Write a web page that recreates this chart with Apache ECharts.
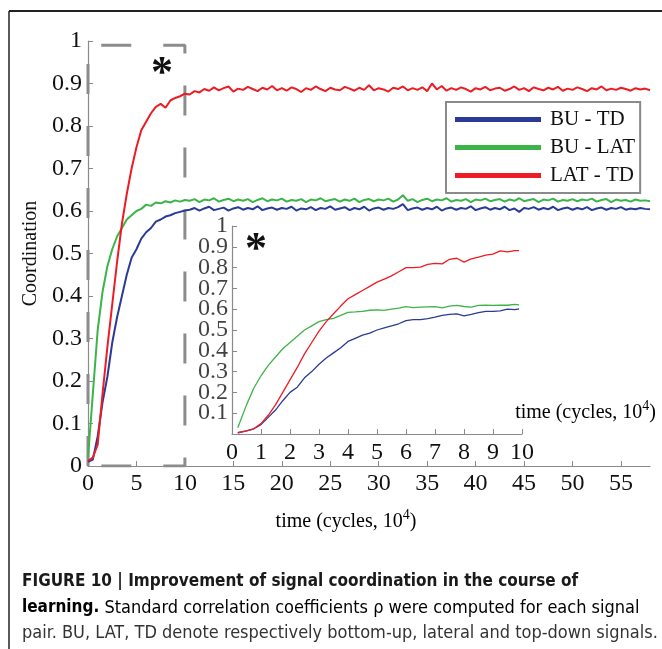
<!DOCTYPE html>
<html><head><meta charset="utf-8">
<script src="https://cdn.jsdelivr.net/npm/echarts@6.0.0/dist/echarts.min.js"></script>
<style>html,body{margin:0;padding:0;background:#fff}#c{width:662px;height:649px}</style>
</head><body><div id="c"></div>
<script>
// ---------- data ----------
const seriesNames = ['BU - TD', 'BU - LAT', 'LAT - TD'];
const seriesColors = ['#2b3a96', '#3cb44a', '#ed1c24'];

const mainTime = [0,0.5,1,1.5,2,2.5,3,3.5,4,4.5,5,5.5,6,6.5,7,7.5,8,8.5,9,9.5,10,
  10.5,11,11.5,12,12.5,13,13.5,14,14.5,15,15.5,16,16.5,17,17.5,18,18.5,19,19.5,20,
  20.5,21,21.5,22,22.5,23,23.5,24,24.5,25,25.5,26,26.5,27,27.5,28,28.5,29,29.5,30,
  30.5,31,31.5,32,32.5,33,33.5,34,34.5,35,35.5,36,36.5,37,37.5,38,38.5,39,39.5,40,
  40.5,41,41.5,42,42.5,43,43.5,44,44.5,45,45.5,46,46.5,47,47.5,48,48.5,49,49.5,50,
  50.5,51,51.5,52,52.5,53,53.5,54,54.5,55,55.5,56,56.5,57,57.5,58];

const buTdMain = [.010,.015,.070,.150,.210,.290,.350,.400,.450,.490,.510,.535,.550,.560,.575,.580,.587,.590,.595,.598,.601,
  .603,.607,.601,.606,.610,.602,.605,.608,.601,.606,
  .609,.603,.607,.604,.611,.602,.606,.608,.603,.607,
  .605,.610,.601,.606,.604,.609,.602,.607,.605,.611,
  .603,.606,.609,.602,.607,.604,.610,.601,.606,.608,
  .603,.607,.605,.609,.616,.602,.606,.608,.603,.607,
  .604,.610,.601,.606,.608,.603,.607,.605,.611,.602,
  .606,.609,.603,.607,.604,.610,.602,.606,.598,.607,
  .605,.609,.603,.607,.604,.610,.602,.606,.608,.603,
  .607,.604,.609,.602,.606,.608,.603,.607,.605,.609,
  .603,.606,.604,.607,.605,.604];

const buLatMain = [.020,.170,.320,.410,.470,.510,.540,.560,.580,.590,.600,.605,.615,.612,.620,.618,.623,.620,.625,.622,.626,
  .624,.628,.621,.627,.625,.630,.622,.626,.629,.623,
  .627,.624,.628,.621,.626,.630,.623,.627,.625,.629,
  .622,.626,.624,.628,.621,.627,.625,.630,.623,.626,
  .628,.622,.627,.624,.629,.621,.626,.628,.623,.627,
  .625,.629,.622,.627,.637,.624,.628,.621,.626,.629,
  .623,.627,.625,.630,.622,.626,.624,.628,.621,.627,
  .625,.629,.623,.626,.628,.622,.627,.624,.630,.623,
  .626,.628,.621,.627,.625,.629,.622,.626,.624,.628,
  .623,.627,.625,.629,.622,.626,.628,.621,.627,.624,
  .626,.622,.627,.624,.625,.623];

const latTdMain = [.012,.020,.050,.170,.280,.380,.480,.570,.640,.700,.750,.790,.810,.830,.845,.852,.843,.860,.866,.870,.876,
  .874,.882,.879,.887,.883,.891,.884,.889,.893,.881,
  .888,.885,.892,.887,.882,.890,.886,.894,.884,.889,
  .883,.891,.887,.880,.889,.885,.893,.887,.882,.890,
  .886,.884,.892,.888,.883,.890,.885,.896,.884,.889,
  .886,.881,.890,.887,.893,.884,.889,.885,.891,.882,
  .900,.886,.894,.883,.889,.885,.891,.887,.881,.889,
  .886,.892,.884,.888,.890,.883,.887,.893,.885,.889,
  .882,.891,.887,.884,.890,.886,.892,.883,.888,.885,
  .891,.887,.882,.889,.886,.893,.884,.888,.885,.890,
  .887,.883,.889,.886,.888,.884];

const insetTime = [0.2,0.5,0.75,1,1.25,1.5,1.75,2,2.25,2.5,2.75,3,3.25,3.5,3.75,4,4.25,4.5,4.75,5,
  5.25,5.5,5.75,6,6.25,6.5,6.75,7,7.25,7.5,7.75,8,8.25,8.5,8.75,9,9.25,9.5,9.75,9.9];
const buTdInset = [.006,.015,.025,.045,.080,.115,.160,.200,.225,.270,.300,.335,.365,.390,.415,.445,.460,.475,.485,.500,
  .510,.520,.530,.545,.550,.550,.555,.562,.570,.575,.578,.568,.575,.583,.590,.590,.592,.600,.598,.602];
const buLatInset = [.030,.140,.220,.280,.330,.370,.410,.440,.470,.500,.520,.540,.550,.556,.570,.585,.587,.590,.595,.597,
  .594,.600,.605,.612,.608,.610,.611,.612,.606,.615,.618,.613,.610,.618,.620,.618,.620,.619,.623,.621];
const latTdInset = [.006,.015,.025,.050,.090,.140,.200,.260,.320,.385,.440,.495,.540,.578,.615,.650,.670,.690,.710,.730,
  .745,.760,.780,.800,.800,.802,.815,.820,.818,.840,.845,.826,.842,.850,.860,.865,.880,.876,.882,.882];

const zoomBox = [[0,0],[0,0.99],[10,0.99],[10,0],[0,0]];
const mainXTicks = [0,5,10,15,20,25,30,35,40,45,50,55];
const insetXTicks = [0,1,2,3,4,5,6,7,8,9,10];
const insetYTicks = [0.1,0.2,0.3,0.4,0.5,0.6,0.7,0.8,0.9,1];

// ---------- chart ----------
const serif = 'Liberation Serif, Times New Roman, serif';
const narrow = 'Liberation Sans Narrow, DejaVu Sans Condensed, Arial Narrow, sans-serif';
const pair = (xs, ys) => xs.map((x, i) => [x, ys[i]]);
const chart = echarts.init(document.getElementById('c'), null, {renderer: 'canvas'});

function lineSeries(name, idx, data, axisIdx, width) {
  return {
    name, type: 'line', xAxisIndex: axisIdx, yAxisIndex: axisIdx,
    data, showSymbol: false, symbol: 'none', z: 3,
    lineStyle: {color: seriesColors[idx], width},
    itemStyle: {color: seriesColors[idx]}
  };
}

const axisCommon = {
  axisLine: {show: true, lineStyle: {color: '#8a8a8a', width: 1.2}},
  axisTick: {show: true, inside: true, length: 5, lineStyle: {color: '#8a8a8a'}},
  splitLine: {show: false}
};
const sup = {
  a: {fontFamily: serif, fontSize: 20, color: '#111', lineHeight: 24, verticalAlign: 'bottom'},
  s: {fontFamily: serif, fontSize: 14, color: '#111', lineHeight: 24, verticalAlign: 'top'}
};
const tickFont = {fontFamily: serif, fontSize: 24, color: '#111'};

chart.setOption({
  animation: false,
  backgroundColor: '#fff',
  grid: [
    {left: 88, top: 41, width: 562, height: 425},
    {left: 232, top: 226, width: 290, height: 208}
  ],
  xAxis: [
    Object.assign({type: 'value', gridIndex: 0, min: 0, max: 58,
      axisLabel: Object.assign({customValues: mainXTicks, margin: 6}, tickFont)}, axisCommon,
      {axisTick: Object.assign({}, axisCommon.axisTick, {customValues: mainXTicks})}),
    Object.assign({type: 'value', gridIndex: 1, min: 0, max: 10, interval: 1,
      axisLabel: Object.assign({customValues: insetXTicks, margin: 7}, tickFont)}, axisCommon)
  ],
  yAxis: [
    Object.assign({type: 'value', gridIndex: 0, min: 0, max: 1, interval: 0.1,
      name: 'Coordination', nameLocation: 'middle', nameGap: 40,
      nameTextStyle: {fontFamily: serif, fontSize: 20, color: '#111'},
      axisLabel: Object.assign({margin: 6, showMaxLabel: true, showMinLabel: true}, tickFont)}, axisCommon),
    Object.assign({type: 'value', gridIndex: 1, min: 0, max: 1, interval: 0.1,
      axisLabel: {show: false}}, axisCommon)
  ],
  legend: {
    data: seriesNames, orient: 'vertical', left: 446, top: 102,
    padding: [7, 5, 7, 9], itemGap: 7, itemWidth: 86, itemHeight: 5, icon: 'rect',
    borderColor: '#8a8a8a', borderWidth: 2, backgroundColor: '#fff', selectedMode: false,
    textStyle: {fontFamily: serif, fontSize: 21, color: '#111', lineHeight: 20, padding: [0, 0, 0, 4]}
  },
  series: [
    {type: 'line', name: 'zoom box', xAxisIndex: 0, yAxisIndex: 0, data: zoomBox, symbol: 'none', z: 2,
      lineStyle: {color: '#8c8c8c', width: 3, type: [30, 32]}, silent: true},
    lineSeries(seriesNames[0], 0, pair(mainTime, buTdMain), 0, 2),
    lineSeries(seriesNames[1], 1, pair(mainTime, buLatMain), 0, 2),
    lineSeries(seriesNames[2], 2, pair(mainTime, latTdMain), 0, 2),
    lineSeries(seriesNames[0], 0, pair(insetTime, buTdInset), 1, 1.3),
    lineSeries(seriesNames[1], 1, pair(insetTime, buLatInset), 1, 1.3),
    lineSeries(seriesNames[2], 2, pair(insetTime, latTdInset), 1, 1.3),
    // inset y tick labels, placed through the inset's own scale
    {type: 'scatter', name: 'inset y labels', xAxisIndex: 1, yAxisIndex: 1, silent: true, clip: false,
      symbolSize: 0, data: insetYTicks.map(v => [0, v]),
      label: {show: true, position: 'left', distance: 4, formatter: p => String(p.value[1]),
        fontFamily: serif, fontSize: 24, color: '#111'},
      labelLayout: {hideOverlap: false}}
  ],
  graphic: [
    {type: 'line', shape: {x1: 9, y1: 11, x2: 662, y2: 11}, style: {stroke: '#222', lineWidth: 2}},
    {type: 'line', shape: {x1: 9, y1: 11, x2: 9, y2: 649}, style: {stroke: '#222', lineWidth: 1.5}},
    {type: 'text', x: 162, y: 75, style: {text: '*', font: 'bold 44px ' + serif, fill: '#111', align: 'center', verticalAlign: 'middle'}},
    {type: 'text', x: 256, y: 251, style: {text: '*', font: 'bold 44px ' + serif, fill: '#111', align: 'center', verticalAlign: 'middle'}},
    {type: 'text', x: 346, y: 520, style: {text: '{a|time (cycles, 10}{s|4}{a|)}', rich: sup, align: 'center', verticalAlign: 'middle'}},
    {type: 'text', x: 656, y: 411, style: {text: '{a|time (cycles, 10}{s|4}{a|)}', rich: sup, align: 'right', verticalAlign: 'middle'}},
    {type: 'text', x: 22, y: 582, style: {text: 'FIGURE 10 | Improvement of signal coordination in the course of',
      font: 'bold 17px ' + narrow, fill: '#1a1a1a', align: 'left', verticalAlign: 'middle'}},
    {type: 'text', x: 22, y: 608, style: {
      text: '{b|learning.}{r| Standard correlation coefficients ρ were computed for each signal}',
      rich: {b: {fontFamily: narrow, fontWeight: 'bold', fontSize: 17, color: '#1a1a1a'},
             r: {fontFamily: narrow, fontSize: 18, color: '#333'}},
      align: 'left', verticalAlign: 'middle'}},
    {type: 'text', x: 22, y: 633, style: {text: 'pair. BU, LAT, TD denote respectively bottom-up, lateral and top-down signals.',
      font: '18px ' + narrow, fill: '#333', align: 'left', verticalAlign: 'middle'}}
  ]
});
</script></body></html>
